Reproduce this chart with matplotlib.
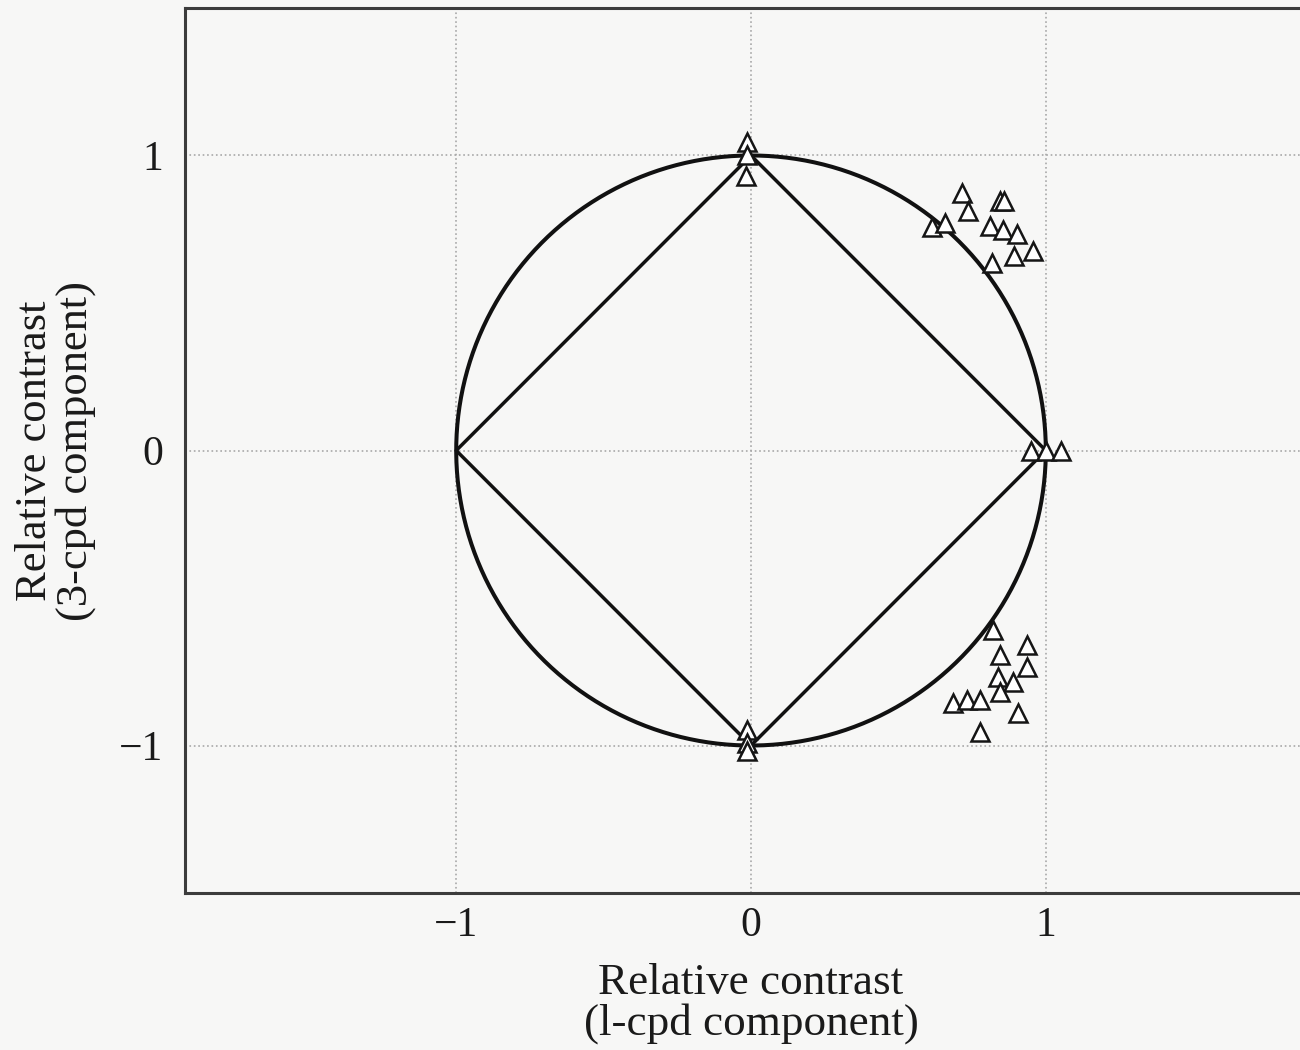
import numpy as np
import matplotlib.pyplot as plt

plt.rcParams['font.family'] = ['Liberation Serif', 'DejaVu Serif']

# matched settings along the axes
axis_x = [-0.015, -0.015, -0.018, -0.015, -0.015, -0.015, 0.951, 1.002, 1.053]
axis_y = [1.045, 1.0, 0.93, -0.946, -0.99, -1.02, 0.0, 0.0, 0.0]

# matched settings, upper quadrant
upper_x = [0.715, 0.736, 0.844, 0.858, 0.614, 0.658, 0.810, 0.854, 0.902, 0.956, 0.892, 0.817]
upper_y = [0.872, 0.811, 0.845, 0.845, 0.757, 0.770, 0.760, 0.747, 0.733, 0.676, 0.659, 0.635]

# matched settings, lower quadrant
lower_x = [0.820, 0.936, 0.844, 0.936, 0.837, 0.888, 0.844, 0.685, 0.732, 0.776, 0.905, 0.776]
lower_y = [-0.608, -0.659, -0.693, -0.733, -0.767, -0.784, -0.818, -0.855, -0.845, -0.845, -0.889, -0.953]

diamond_x = [1, 0, -1, 0, 1]
diamond_y = [0, 1, 0, -1, 0]
ticks = [-1, 0, 1]

bg = '#f7f7f6'
fig = plt.figure(figsize=(13, 10.5), dpi=100, facecolor=bg)
ax = fig.add_axes([0.1423, 0.1495, 0.8708, 0.8429], facecolor=bg)

theta = np.linspace(0, 2 * np.pi, 400)
ax.plot(np.cos(theta), np.sin(theta), color='#111111', lw=2.9, zorder=3)
ax.plot(diamond_x, diamond_y, color='#111111', lw=2.5, zorder=3)

pts_x = axis_x + upper_x + lower_x
pts_y = axis_y + upper_y + lower_y
ax.plot(pts_x, pts_y, ls='none', marker='^', ms=13.5, mfc='white',
        mec='#151515', mew=1.8, zorder=4)

ax.set_xlim(-1.92, 1.92)
ax.set_ylim(-1.5, 1.5)
ax.set_xticks(ticks)
ax.set_yticks(ticks)
ax.grid(True, color='#a8a8a8', ls=':', lw=1.2, zorder=1)
ax.tick_params(length=0, labelsize=30, colors='#1a1a1a')
ax.tick_params(axis='x', pad=10)
ax.tick_params(axis='y', pad=16)

for s in ax.spines.values():
    s.set_color('#3c3c3c')
    s.set_linewidth(2.2)

ax.set_xlabel('Relative contrast\n(l-cpd component)', fontsize=32.5,
              linespacing=1.0, color='#1a1a1a')
ax.xaxis.set_label_coords(0.5, -0.079)
ax.xaxis.label.set_va('top')
ax.set_ylabel('Relative contrast\n(3-cpd component)', fontsize=32,
              linespacing=0.98, color='#1a1a1a')
ax.yaxis.set_label_coords(-0.079, 0.5)

fig.savefig('out.png', dpi=100, facecolor=bg)
